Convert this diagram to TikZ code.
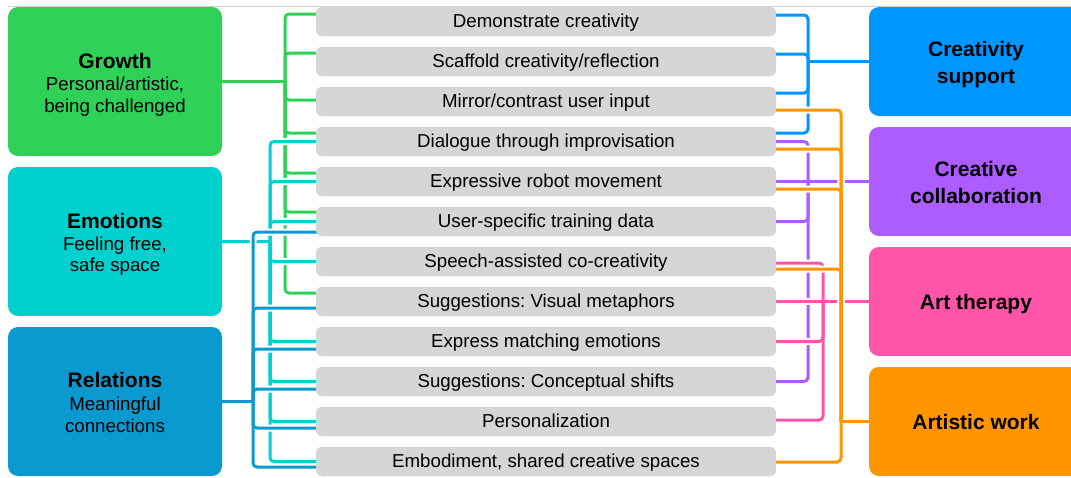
\documentclass[tikz,border=0pt]{standalone}
\usepackage{fontspec}
\setmainfont{Liberation Sans}
\usetikzlibrary{calc}
\pgfdeclarelayer{bg}
\pgfsetlayers{bg,main}
\frenchspacing
\definecolor{cgreen}{HTML}{30D158}
\definecolor{ccyan}{HTML}{00D0CE}
\definecolor{crel}{HTML}{0A9AD0}
\definecolor{ccs}{HTML}{0096FF}
\definecolor{ccc}{HTML}{AC5CFF}
\definecolor{cat}{HTML}{FF55A8}
\definecolor{caw}{HTML}{FF9500}
\definecolor{cgray}{HTML}{D6D6D6}
\definecolor{ctop}{HTML}{CFCFCF}

\newcommand\GreenLinks[1]{%
 \draw[#1] (growth.east) -- (gJ);
 \draw[#1] (gJ) |- ([xshift=4pt,yshift=7.5pt]r1.west);
 \draw[#1] (gJ) |- ([xshift=4pt,yshift=8.5pt]r2.west);
 \draw[#1] (gJ) |- ([xshift=4pt,yshift=1.5pt]r3.west);
 \draw[#1] (gJ) |- ([xshift=4pt,yshift=8.5pt]r4.west);
 \draw[#1] (gJ) |- ([xshift=4pt,yshift=8.5pt]r5.west);
 \draw[#1] (gJ) |- ([xshift=4pt,yshift=9.5pt]r6.west);
 \draw[#1] (gJ) |- ([xshift=4pt,yshift=8.5pt]r8.west);}
\newcommand\CyanLinks[1]{%
 \draw[#1] (emotions.east) -- (cJ);
 \draw[#1] (cJ) |- ([xshift=4pt]r4.west);
 \draw[#1] (cJ) |- ([xshift=4pt]r5.west);
 \draw[#1] (cJ) |- ([xshift=4pt]r6.west);
 \draw[#1] (cJ) |- ([xshift=4pt]r7.west);
 \draw[#1] (cJ) |- ([xshift=4pt]r9.west);
 \draw[#1] (cJ) |- ([xshift=4pt]r10.west);
 \draw[#1] (cJ) |- ([xshift=4pt]r11.west);
 \draw[#1] (cJ) |- ([xshift=4pt]r12.west);}
\newcommand\RelLinks[1]{%
 \draw[#1] (relations.east) -- (bJ);
 \draw[#1] (bJ) |- ([xshift=4pt,yshift=-10.5pt]r6.west);
 \draw[#1] (bJ) |- ([xshift=4pt,yshift=-6.5pt]r8.west);
 \draw[#1] (bJ) |- ([xshift=4pt,yshift=-7.5pt]r9.west);
 \draw[#1] (bJ) |- ([xshift=4pt,yshift=-7.5pt]r10.west);
 \draw[#1] (bJ) |- ([xshift=4pt,yshift=-6.5pt]r11.west);
 \draw[#1] (bJ) |- ([xshift=4pt,yshift=-5.5pt]r12.west);}
\newcommand\CSLinks[1]{%
 \draw[#1] (csJ) -- (csbox.west);
 \draw[#1] (csJ) |- ([xshift=-4pt,yshift=6.5pt]r1.east);
 \draw[#1] (csJ) |- ([xshift=-4pt,yshift=7.5pt]r2.east);
 \draw[#1] (csJ) |- ([xshift=-4pt,yshift=8.5pt]r3.east);
 \draw[#1] (csJ) |- ([xshift=-4pt,yshift=8.5pt]r4.east);}
\newcommand\CCLinks[1]{%
 \draw[#1] ([xshift=-4pt]r5.east) -- (ccbox.west);
 \draw[#1] (ccJ) |- ([xshift=-4pt]r4.east);
 \draw[#1] (ccJ) |- ([xshift=-4pt]r6.east);
 \draw[#1] (ccJ) |- ([xshift=-4pt]r10.east);}
\newcommand\ATLinks[1]{%
 \draw[#1] ([xshift=-4pt]r8.east) -- (atbox.west);
 \draw[#1] (atJ) |- ([xshift=-4pt,yshift=-1.5pt]r7.east);
 \draw[#1] (atJ) |- ([xshift=-4pt]r9.east);
 \draw[#1] (atJ) |- ([xshift=-4pt,yshift=1.5pt]r11.east);}
\newcommand\AWLinks[1]{%
 \draw[#1] (awJ) -- (awbox.west);
 \draw[#1] (awJ) |- ([xshift=-4pt,yshift=-8.5pt]r3.east);
 \draw[#1] (awJ) |- ([xshift=-4pt,yshift=-7.5pt]r4.east);
 \draw[#1] (awJ) |- ([xshift=-4pt,yshift=-7.5pt]r5.east);
 \draw[#1] (awJ) |- ([xshift=-4pt,yshift=-7.5pt]r7.east);
 \draw[#1] (awJ) |- ([xshift=-4pt,yshift=-0.5pt]r12.east);}

\begin{document}
\begin{tikzpicture}[x=1pt,y=-1pt,
  mid/.style={fill=cgray, rounded corners=6pt, minimum width=460pt, minimum height=29.5pt,
    inner sep=0pt, text height=12.4pt, text depth=0pt,
    font=\fontsize{18.7pt}{21.5pt}\selectfont, text=black},
  bigL/.style={rounded corners=10pt, minimum width=214pt, minimum height=149pt, inner sep=0pt},
  bigR/.style={rounded corners=10pt, minimum width=214pt, minimum height=109pt, inner sep=0pt},
  ttl/.style={font=\fontsize{21pt}{27pt}\selectfont\bfseries, align=center, inner sep=0pt, text=black},
  subt/.style={font=\fontsize{18.7pt}{21.5pt}\selectfont, align=center, inner sep=0pt, text=black},
  conn/.style={line width=3pt, rounded corners=4pt},
  halo/.style={conn, draw=white, line width=7pt}]
\useasboundingbox (0,0) rectangle (1071,477);
\clip (0,0) rectangle (1071,477);

\draw[ctop, line width=1pt] (8,6) -- (1071,6);

% left category boxes
\node[bigL, fill=cgreen] (growth) at (115,81.5) {};
\node[ttl] (growthT) at (115,61) {Growth};
\node[subt] (growthS) at (115,96.5) {Personal/artistic,\\being challenged};
\node[bigL, fill=ccyan] (emotions) at (115,241.5) {};
\node[ttl] (emotionsT) at (115,221) {Emotions};
\node[subt] (emotionsS) at (115,256) {Feeling free,\\safe space};
\node[bigL, fill=crel] (relations) at (115,401.5) {};
\node[ttl] (relationsT) at (115,380) {Relations};
\node[subt] (relationsS) at (115,415) {Meaningful\\connections};

% right category boxes
\node[bigR, fill=ccs] (csbox) at (976,61.5) {};
\node[ttl] (csT) at (976,64.5) {Creativity\\support};
\node[bigR, fill=ccc] (ccbox) at (976,181.5) {};
\node[ttl] (ccT) at (976,182.5) {Creative\\collaboration};
\node[bigR, fill=cat] (atbox) at (976,301.5) {};
\node[ttl] (atT) at (976,304) {Art therapy};
\node[bigR, fill=caw] (awbox) at (976,421.5) {};
\node[ttl] (awT) at (976,422) {Artistic work};

% middle rows
\node[mid] (r1) at (546,21.5) {Demonstrate creativity};
\node[mid] (r2) at (546,61.5) {Scaffold creativity/reflection};
\node[mid] (r3) at (546,101.5) {Mirror/contrast user input};
\node[mid] (r4) at (546,141.5) {Dialogue through improvisation};
\node[mid] (r5) at (546,181.5) {Expressive robot movement};
\node[mid] (r6) at (546,221.5) {User-specific training data};
\node[mid] (r7) at (546,261.5) {Speech-assisted co-creativity};
\node[mid] (r8) at (546,301.5) {Suggestions: Visual metaphors};
\node[mid] (r9) at (546,341.5) {Express matching emotions};
\node[mid] (r10) at (546,381.5) {Suggestions: Conceptual shifts};
\node[mid] (r11) at (546,421.5) {Personalization};
\node[mid] (r12) at (546,461.5) {Embodiment, shared creative spaces};

% junctions
\coordinate (gJ) at (285,81.5);
\coordinate (cJ) at (270,241.5);
\coordinate (bJ) at (253,401.5);
\coordinate (csJ) at (808,61.5);
\coordinate (ccJ) at (808,181.5);
\coordinate (atJ) at (823,301.5);
\coordinate (awJ) at (841,421.5);

\begin{pgfonlayer}{bg}
\GreenLinks{halo}\GreenLinks{conn,draw=cgreen}
\CyanLinks{halo}\CyanLinks{conn,draw=ccyan}
\RelLinks{halo}\RelLinks{conn,draw=crel}
\CSLinks{halo}\CSLinks{conn,draw=ccs}
\CCLinks{halo}\CCLinks{conn,draw=ccc}
\ATLinks{halo}\ATLinks{conn,draw=cat}
\AWLinks{halo}\AWLinks{conn,draw=caw}
\end{pgfonlayer}
\end{tikzpicture}
\end{document}
